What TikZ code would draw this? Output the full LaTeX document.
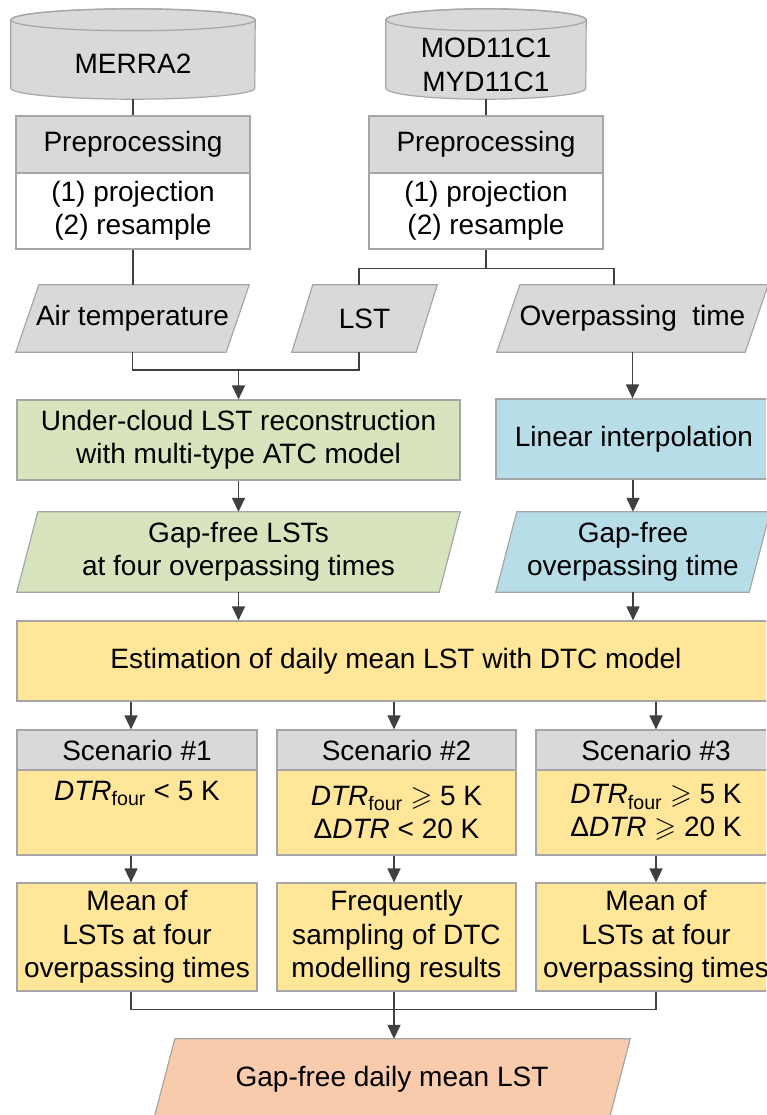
\documentclass[tikz,border=0pt]{standalone}
\usepackage{amssymb}
\usepackage{fontspec}
\setmainfont{Liberation Sans}
\usetikzlibrary{arrows.meta,backgrounds}
\definecolor{grayfill}{HTML}{D9D9D9}
\definecolor{bordergray}{HTML}{A6A6A6}
\definecolor{linegray}{HTML}{404040}
\definecolor{greenfill}{HTML}{D7E4BD}
\definecolor{bluefill}{HTML}{B7DEE8}
\definecolor{yellowfill}{HTML}{FFE699}
\definecolor{salmonfill}{HTML}{F8CBAD}
\newcommand\paradraw[3]{\draw[fill=#3, draw=bordergray, line width=1.2pt] (#1.south west) -- ([xshift=#2]#1.north west) -- (#1.north east) -- ([xshift=-#2]#1.south east) -- cycle;}
\begin{document}
\begin{tikzpicture}[x=1pt,y=-1pt,
  txt/.style={inner sep=0pt, align=center, font=\fontsize{28}{33.5}\selectfont, text=black},
  boxA/.style={txt, draw=bordergray, line width=1.2pt},
  conn/.style={draw=linegray, line width=1.5pt},
  arr/.style={conn, -{Triangle[length=14pt,width=13pt]}},
  cylbody/.style={fill=grayfill, draw=bordergray, line width=1.2pt}
]
\useasboundingbox (0,0) rectangle (766,1115);
\clip (0,0) rectangle (766,1115);
\coordinate (c1) at (131,0);
\coordinate (c2) at (394,0);
\coordinate (c3) at (656,0);
\coordinate (lstx) at (359,0);
\coordinate (ovx) at (614,0);

% cylinders
\node (cylA) [minimum width=244pt, minimum height=90pt, inner sep=0pt] at (133,54) {};
\draw[cylbody] ([yshift=-11pt]cylA.north west) -- ([yshift=11pt]cylA.south west) arc[start angle=180,end angle=360,x radius=122pt,y radius=11pt] -- ([yshift=-11pt]cylA.north east) arc[start angle=0,end angle=180,x radius=122pt,y radius=11pt] -- cycle;
\draw[draw=bordergray, line width=1.2pt] ([yshift=-11pt]cylA.north) ellipse [x radius=122pt, y radius=11pt];
\node[txt] (cylAt) at (133,64) {MERRA2};

\node (cylB) [minimum width=200pt, minimum height=90pt, inner sep=0pt] at (486,54) {};
\draw[cylbody] ([yshift=-11pt]cylB.north west) -- ([yshift=11pt]cylB.south west) arc[start angle=180,end angle=360,x radius=100pt,y radius=11pt] -- ([yshift=-11pt]cylB.north east) arc[start angle=0,end angle=180,x radius=100pt,y radius=11pt] -- cycle;
\draw[draw=bordergray, line width=1.2pt] ([yshift=-11pt]cylB.north) ellipse [x radius=100pt, y radius=11pt];
\node[txt] (cylBt) at (486,65) {MOD11C1\\MYD11C1};

% preprocessing
\node[boxA, fill=grayfill, minimum width=234pt, minimum height=57pt] (preAh) at (133,144.5) {Preprocessing};
\node[boxA, fill=white, minimum width=234pt, minimum height=76pt] (preAb) at (133,211) {(1) projection\\(2) resample};
\node[boxA, fill=grayfill, minimum width=234pt, minimum height=57pt] (preBh) at (486,144.5) {Preprocessing};
\node[boxA, fill=white, minimum width=234pt, minimum height=76pt] (preBb) at (486,211) {(1) projection\\(2) resample};

% parallelograms row 1
\node[txt, minimum width=233pt, minimum height=67pt] (air) at (132.5,318.5) {Air temperature};
\node[txt, minimum width=145pt, minimum height=67pt] (lst) at (364.5,318.5) {LST};
\node[txt, minimum width=271pt, minimum height=67pt] (over) at (632.5,318.5) {Overpassing\ \ time};

% processing
\node[boxA, fill=greenfill, minimum width=443pt, minimum height=80pt] (under) at (238.5,440) {Under-cloud LST reconstruction\\with multi-type ATC model};
\node[boxA, fill=bluefill, minimum width=276pt, minimum height=80pt] (lin) at (634,439) {Linear interpolation};

\node[txt, minimum width=443pt, minimum height=80pt] (gap1) at (238.5,552) {Gap-free LSTs\\at four overpassing times};
\node[txt, minimum width=274pt, minimum height=80pt] (gap2) at (633,552) {Gap-free\\overpassing time};

\node[boxA, fill=yellowfill, minimum width=758pt, minimum height=80pt] (est) at (396,661) {Estimation of daily mean LST with DTC model};

% scenarios
\node[boxA, fill=grayfill, minimum width=240pt, minimum height=40pt] (s1h) at (137,750) {Scenario \#1};
\node[boxA, fill=grayfill, minimum width=239pt, minimum height=40pt] (s2h) at (396.5,750) {Scenario \#2};
\node[boxA, fill=grayfill, minimum width=240pt, minimum height=40pt] (s3h) at (656,750) {Scenario \#3};
\node[boxA, fill=yellowfill, minimum width=240pt, minimum height=85pt] (s1b) at (137,812.5) {\textit{DTR}\textsubscript{four} < 5 K\\\strut};
\node[boxA, fill=yellowfill, minimum width=239pt, minimum height=85pt] (s2b) at (396.5,812.5) {\textit{DTR}\textsubscript{four} $\geqslant$ 5 K\\Δ\textit{DTR} < 20 K};
\node[boxA, fill=yellowfill, minimum width=240pt, minimum height=85pt] (s3b) at (656,812.5) {\textit{DTR}\textsubscript{four} $\geqslant$ 5 K\\Δ\textit{DTR} $\geqslant$ 20 K};

\node[boxA, fill=yellowfill, minimum width=240pt, minimum height=108pt] (m1) at (137,937) {Mean of\\LSTs at four\\overpassing times};
\node[boxA, fill=yellowfill, minimum width=239pt, minimum height=108pt] (m2) at (396.5,937) {Frequently\\sampling of DTC\\modelling results};
\node[boxA, fill=yellowfill, minimum width=240pt, minimum height=108pt] (m3) at (656,937) {Mean of\\LSTs at four\\overpassing times};

\node[txt, minimum width=476pt, minimum height=80pt] (fin) at (392,1079) {Gap-free daily mean LST};

\begin{scope}[on background layer]
\paradraw{air}{23pt}{grayfill}
\paradraw{lst}{21pt}{grayfill}
\paradraw{over}{23pt}{grayfill}
\paradraw{gap1}{21pt}{greenfill}
\paradraw{gap2}{21pt}{bluefill}
\paradraw{fin}{21pt}{salmonfill}
\end{scope}

% connectors
\draw[conn] (cylA.south) -- (preAh.north);
\draw[conn] (cylB.south) -- (preBh.north);
\draw[conn] (preAb.south) -- (preAb.south |- air.north);
\draw[conn] (preBb.south) -- ++(0,19) coordinate (split);
\draw[conn] (lst.north -| lstx) |- (split) -| (over.north -| ovx);
\draw[conn] (air.south) -- ++(0,18) coordinate (mergeA) -| (lst.south -| lstx);
\draw[arr] (mergeA -| under.north) -- (under.north);
\draw[arr] (over.south) -- (over.south |- lin.north);
\draw[arr] (under.south) -- (gap1.north);
\draw[arr] (lin.south -| gap2.north) -- (gap2.north);
\draw[arr] (gap1.south) -- (gap1.south |- est.north);
\draw[arr] (gap2.south) -- (gap2.south |- est.north);
\draw[arr] (est.south -| c1) -- (s1h.north -| c1);
\draw[arr] (est.south -| c2) -- (s2h.north -| c2);
\draw[arr] (est.south -| c3) -- (s3h.north -| c3);
\draw[arr] (s1b.south -| c1) -- (m1.north -| c1);
\draw[arr] (s2b.south -| c2) -- (m2.north -| c2);
\draw[arr] (s3b.south -| c3) -- (m3.north -| c3);
\draw[conn] (m1.south -| c1) -- ++(0,18) -| (m3.south -| c3);
\draw[arr] (m2.south -| c2) -- (fin.north -| c2);
\end{tikzpicture}
\end{document}
